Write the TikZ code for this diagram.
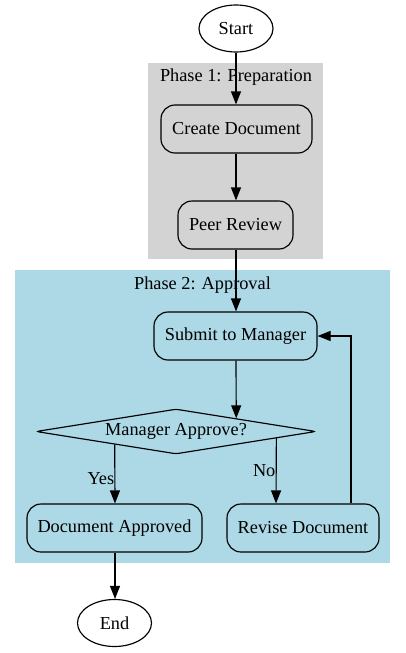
\documentclass[tikz,border=0pt]{standalone}
\usepackage{fontspec}
\setmainfont{Liberation Serif}
\usetikzlibrary{shapes.geometric,arrows.meta,calc}
\definecolor{clgray}{HTML}{D3D3D3}
\definecolor{clblue}{HTML}{ADD8E6}
\begin{document}
\begin{tikzpicture}[x=1pt,y=-1pt,
  every node/.style={font=\fontsize{18.3}{21}\selectfont},
  proc/.style={draw, line width=1.15pt, rounded corners=14pt, minimum height=48pt, inner sep=0pt},
  term/.style={draw, line width=1.15pt, ellipse, minimum width=74pt, minimum height=47pt, inner sep=0pt},
  dec/.style={draw, line width=1.15pt, diamond, aspect=6.22, minimum width=280pt, minimum height=45pt, inner sep=0pt, rounded corners=3pt},
  arr/.style={line width=1.15pt, -{Triangle[length=13pt,width=10pt]}},
  lbl/.style={inner sep=0pt}]
\useasboundingbox (0,0) rectangle (405,653);
% clusters
\fill[clgray] (148,63) rectangle (323,259);
\node[lbl] (c1) at (236,77) {Phase 1: Preparation};
\fill[clblue] (15,270) rectangle (390,563);
\node[lbl] (c2) at (202.5,285) {Phase 2: Approval};
% nodes
\node[term] (start) at (236,28.5) {Start};
\node[proc, minimum width=151pt] (create) at (236.5,129) {Create Document};
\node[proc, minimum width=115pt] (peer) at (235.5,225) {Peer Review};
\node[proc, minimum width=163pt] (submit) at (235.5,336) {Submit to Manager};
\node[dec] (dia) at (176,431.5) {Manager Approve?};
\node[proc, minimum width=175pt] (appr) at (114.5,528) {Document Approved};
\node[proc, minimum width=152pt] (rev) at (303,528) {Revise Document};
\node[term] (end) at (114.5,623) {End};
% edges
\draw[arr] (start.south -| 236,0) -- (create.north -| 236,0);
\draw[arr] (create.south -| 236,0) -- (peer.north -| 236,0);
\draw[arr] (peer.south -| 236,0) -- (submit.north -| 236,0);
\draw[arr] (submit.south -| 236,0) -- ($(dia.north)!0.4286!(dia.east)$);
\draw[arr] ($(dia.west)!0.564!(dia.south)$) -- (appr.north -| 115,0)
  node[lbl, pos=0.57, xshift=-14pt] (yes) {Yes};
\draw[arr] ($(dia.south)!0.714!(dia.east)$) -- (rev.north -| 276,0)
  node[lbl, pos=0.5, xshift=-12pt] (no) {No};
\draw[arr] (rev.north -| 351,0) |- (submit.east);
\draw[arr] (appr.south -| 115,0) -- (end.north -| 115,0);
\end{tikzpicture}
\end{document}
